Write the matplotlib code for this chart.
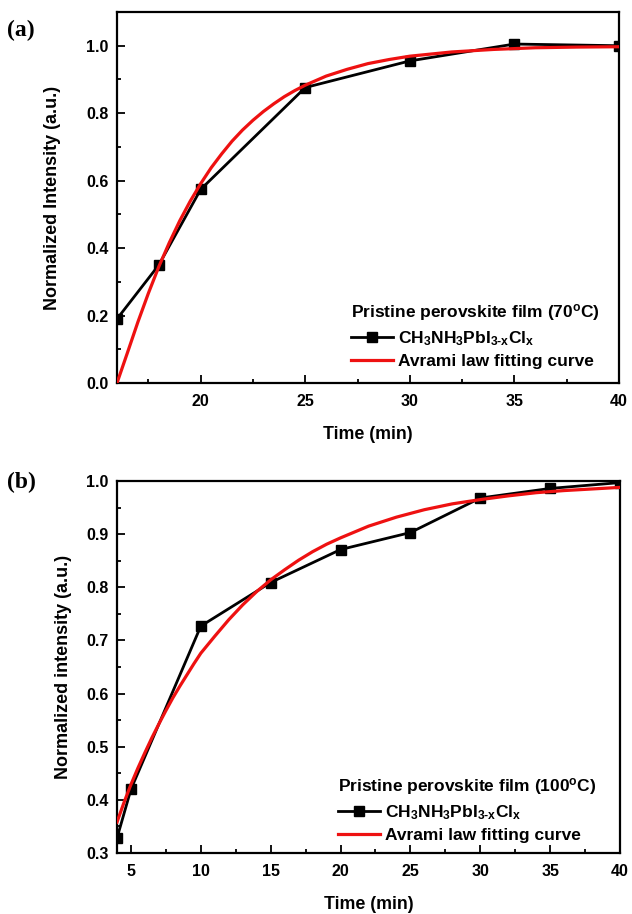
import matplotlib
matplotlib.use("Agg")
import matplotlib.pyplot as plt
from matplotlib.ticker import MultipleLocator, FormatStrFormatter

plt.rcParams['font.family'] = ['Liberation Sans', 'DejaVu Sans']
plt.rcParams['font.weight'] = 'bold'
plt.rcParams['mathtext.fontset'] = 'custom'
plt.rcParams['mathtext.rm'] = 'Liberation Sans:bold'
plt.rcParams['mathtext.it'] = 'Liberation Sans:bold'
plt.rcParams['mathtext.bf'] = 'Liberation Sans:bold'
plt.rcParams['mathtext.default'] = 'regular'

# ---------------- data (a) ----------------
time_a = [16, 18, 20, 25, 30, 35, 40]
intensity_a = [0.19, 0.35, 0.574, 0.876, 0.955, 1.005, 1.0]
fit_time_a = [16, 16.5, 17, 17.5, 18, 18.5, 19, 19.5, 20, 20.5, 21, 21.5, 22, 22.5,
              23, 23.5, 24, 24.5, 25, 26, 27, 28, 29, 30, 32, 34, 36, 38, 40]
fit_a = [0.0, 0.09, 0.181, 0.266, 0.345, 0.416, 0.481, 0.539, 0.591, 0.638, 0.679,
         0.717, 0.75, 0.779, 0.805, 0.828, 0.849, 0.867, 0.883, 0.91, 0.93, 0.947,
         0.959, 0.969, 0.9815, 0.989, 0.994, 0.996, 0.997]

# ---------------- data (b) ----------------
time_b = [4, 5, 10, 15, 20, 25, 30, 35, 40]
intensity_b = [0.328, 0.42, 0.727, 0.809, 0.871, 0.903, 0.968, 0.986, 0.997]
fit_time_b = [4, 4.5, 5, 5.5, 6, 6.5, 7, 7.5, 8, 8.5, 9, 9.5, 10, 11, 12, 13, 14, 15,
              16, 17, 18, 19, 20, 22, 24, 26, 28, 30, 32, 34, 36, 38, 40]
fit_b = [0.358, 0.395, 0.429, 0.46, 0.489, 0.517, 0.543, 0.568, 0.592, 0.614, 0.635,
         0.656, 0.676, 0.708, 0.739, 0.767, 0.792, 0.814, 0.833, 0.851, 0.867, 0.881,
         0.893, 0.915, 0.932, 0.946, 0.957, 0.965, 0.972, 0.978, 0.982, 0.985, 0.988]

label_data = r'CH$_3$NH$_3$PbI$_{3\text{-}x}$Cl$_x$'
label_fit = 'Avrami law fitting curve'
title_a = 'Pristine perovskite film (70$^o$C)'
title_b = 'Pristine perovskite film (100$^o$C)'

W, H = 632, 914
fig = plt.figure(figsize=(W / 100, H / 100), dpi=100)


def px_axes(l, t, r, b):
    return fig.add_axes([l / W, 1 - b / H, (r - l) / W, (b - t) / H])


def style(ax):
    for s in ax.spines.values():
        s.set_linewidth(1.6)
    ax.tick_params(which='both', direction='in', top=False, right=False,
                   labelsize=11.5, width=1.3)
    ax.tick_params(which='major', length=5.5)
    ax.tick_params(which='minor', length=3)
    ax.tick_params(axis='x', which='major', pad=8)
    ax.tick_params(axis='y', which='major', pad=6)
    for lab in ax.get_xticklabels() + ax.get_yticklabels():
        lab.set_fontweight('bold')


def add_legend(ax, title, left, top):
    leg = ax.legend(loc='upper left', bbox_to_anchor=(left / W, 1 - top / H),
                    bbox_transform=fig.transFigure, frameon=False,
                    title=title, fontsize=12.5, title_fontsize=12.5,
                    handlelength=2.4, handletextpad=0.3, labelspacing=0.35,
                    alignment='left', borderpad=0, borderaxespad=0)
    leg.get_title().set_fontweight('bold')
    return leg


def draw(ax, t, y, ft, fy):
    ax.plot(t, y, color='black', lw=2.0, marker='s', ms=6.5,
            label=label_data, zorder=2)
    ax.plot(ft, fy, color='#ee1111', lw=2.3, label=label_fit, zorder=3,
            solid_joinstyle='round')


# ---------------- panel (a) ----------------
ax1 = px_axes(117, 12, 619, 383)
draw(ax1, time_a, intensity_a, fit_time_a, fit_a)
ax1.set_xlim(16, 40)
ax1.set_ylim(0, 1.1)
ax1.set_xticks([20, 25, 30, 35, 40])
ax1.xaxis.set_minor_locator(MultipleLocator(2.5))
ax1.yaxis.set_major_locator(MultipleLocator(0.2))
ax1.yaxis.set_minor_locator(MultipleLocator(0.1))
ax1.yaxis.set_major_formatter(FormatStrFormatter('%.1f'))
style(ax1)
ax1.set_xlabel('Time (min)', fontsize=12.8, fontweight='bold', labelpad=12)
ax1.set_ylabel('Normalized Intensity (a.u.)', fontsize=13, fontweight='bold', labelpad=18)
add_legend(ax1, title_a, 351, 302)
fig.text(7 / W, 1 - 30 / H, '(a)', fontsize=17, fontweight='bold',
         family=['Liberation Serif', 'DejaVu Serif'], va='center', ha='left')

# ---------------- panel (b) ----------------
ax2 = px_axes(117, 481, 620, 853)
draw(ax2, time_b, intensity_b, fit_time_b, fit_b)
ax2.set_xlim(4, 40)
ax2.set_ylim(0.3, 1.0)
ax2.xaxis.set_major_locator(MultipleLocator(5))
ax2.xaxis.set_minor_locator(MultipleLocator(2.5))
ax2.yaxis.set_major_locator(MultipleLocator(0.1))
ax2.yaxis.set_minor_locator(MultipleLocator(0.05))
ax2.yaxis.set_major_formatter(FormatStrFormatter('%.1f'))
style(ax2)
ax2.set_xlabel('Time (min)', fontsize=12.8, fontweight='bold', labelpad=12)
ax2.set_ylabel('Normalized intensity (a.u.)', fontsize=13, fontweight='bold', labelpad=10)
add_legend(ax2, title_b, 338, 776)
fig.text(7 / W, 1 - 482 / H, '(b)', fontsize=17, fontweight='bold',
         family=['Liberation Serif', 'DejaVu Serif'], va='center', ha='left')

fig.savefig('out.png', dpi=100)
